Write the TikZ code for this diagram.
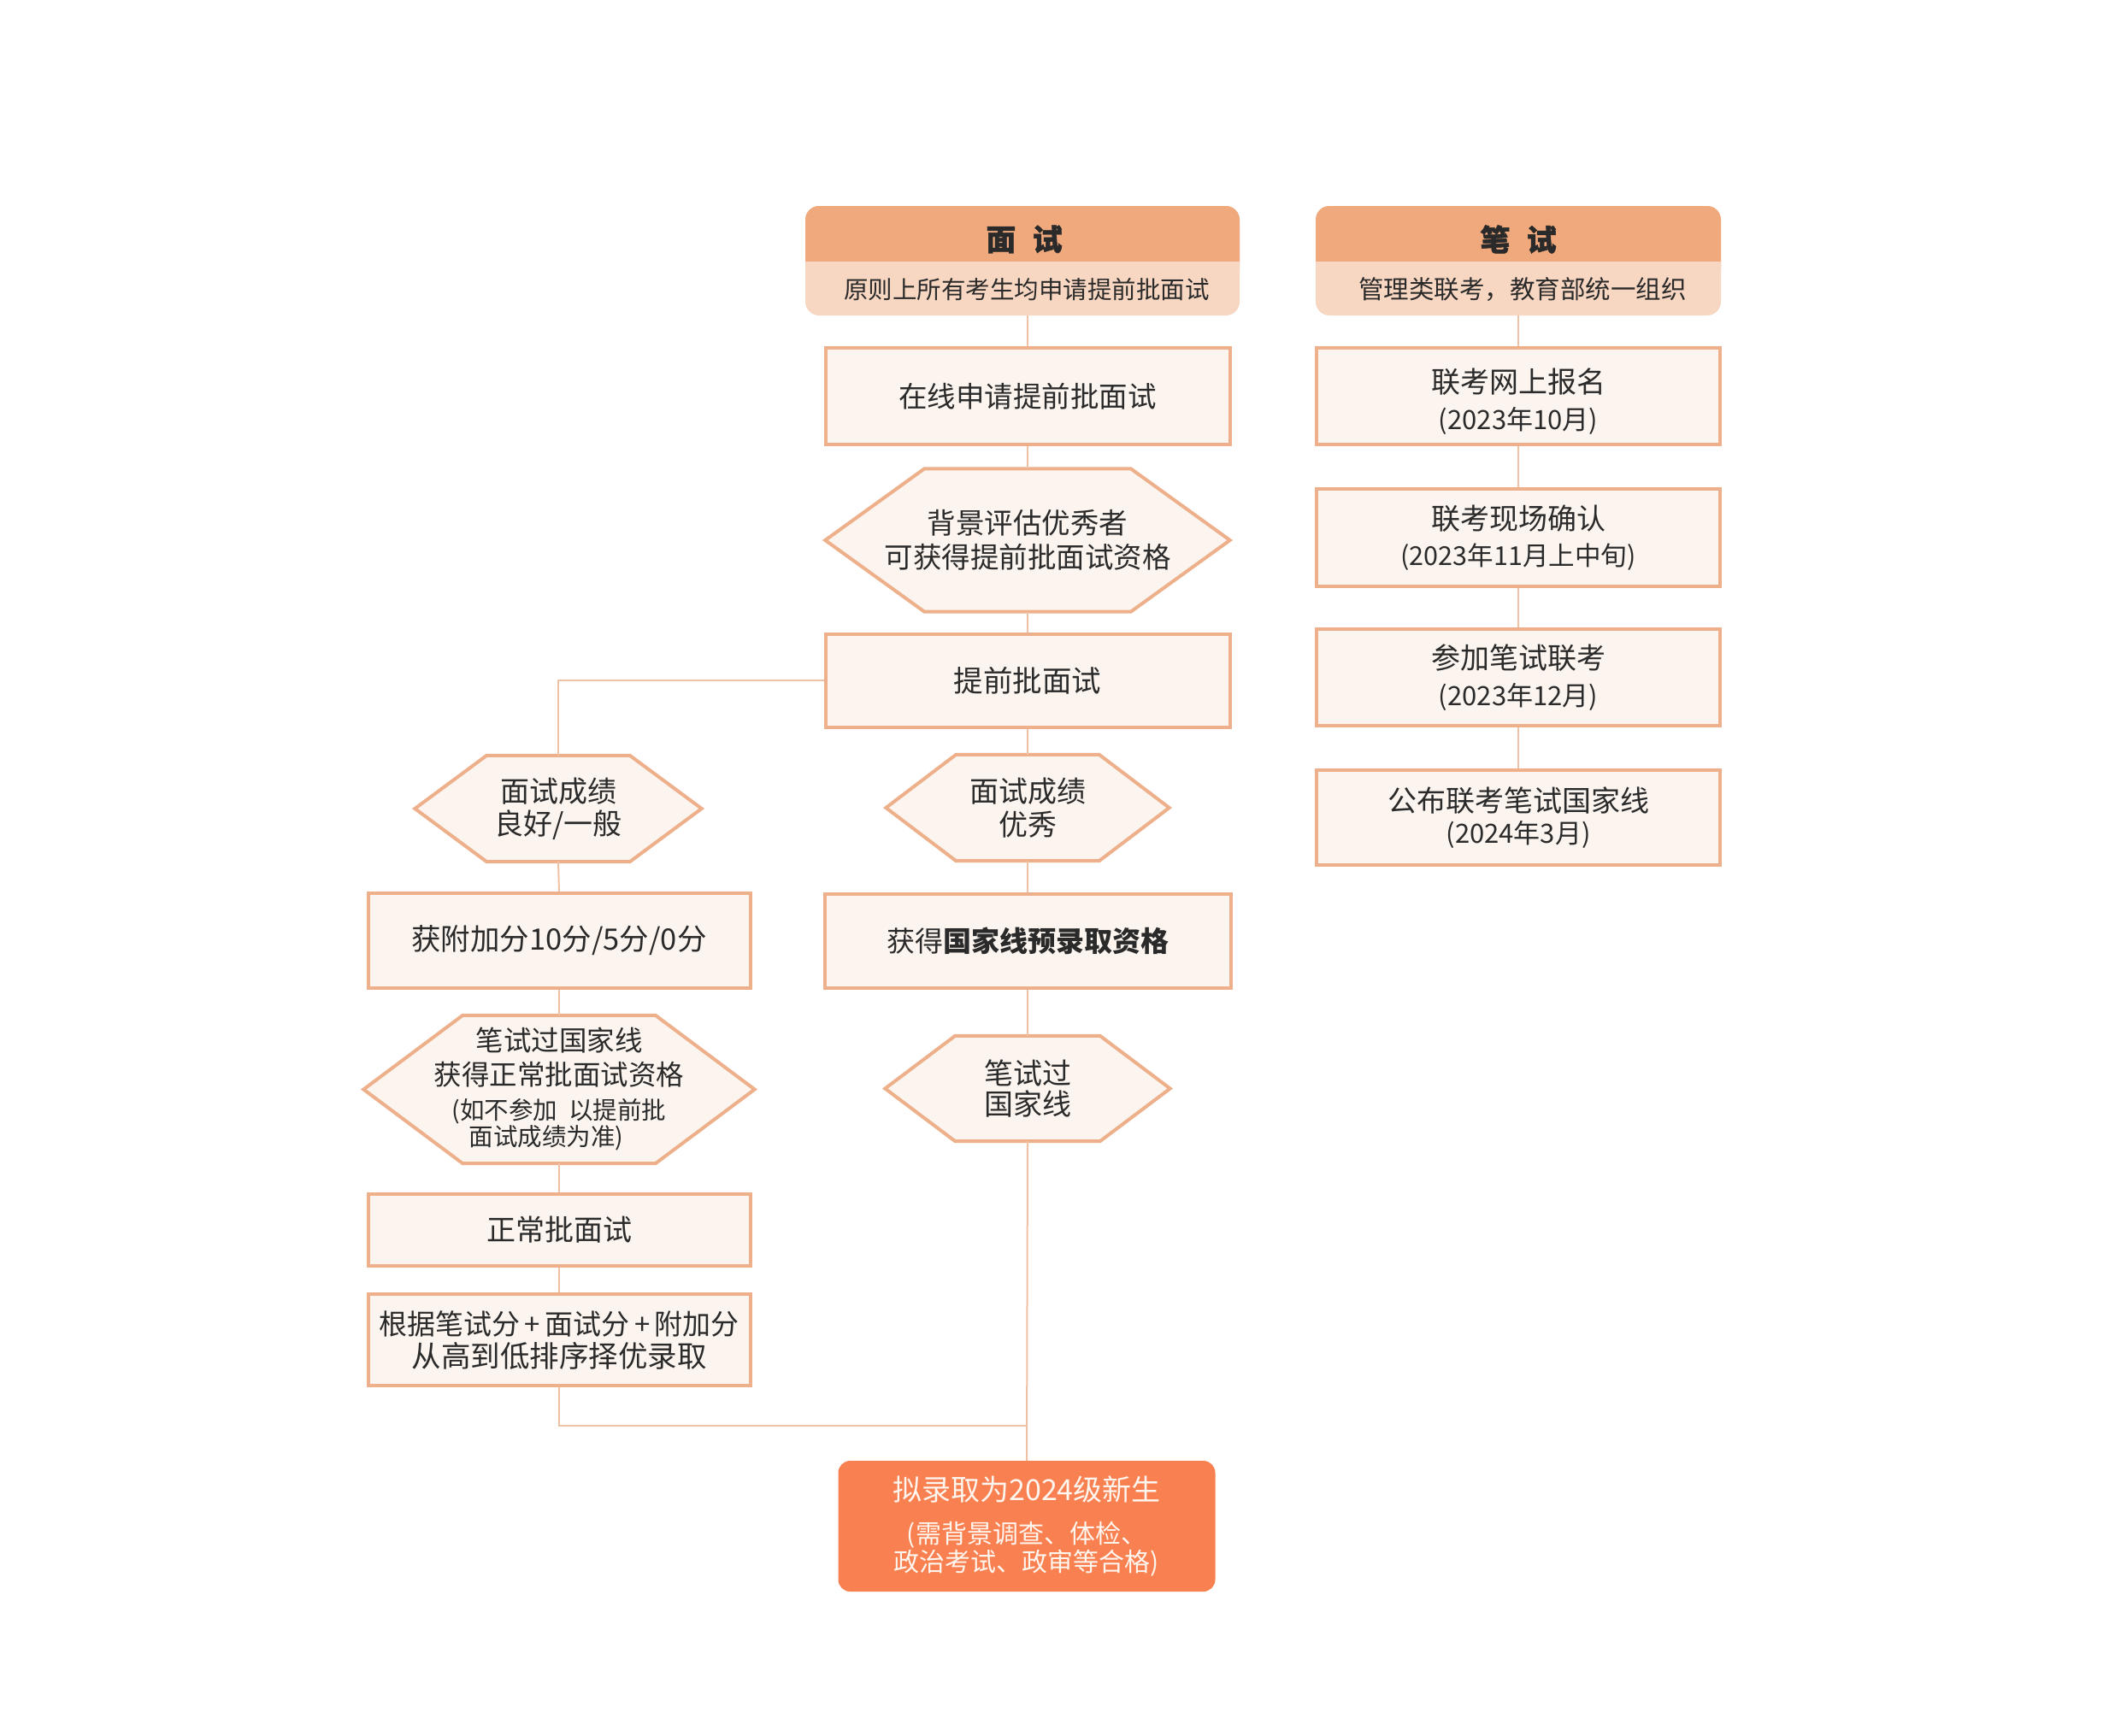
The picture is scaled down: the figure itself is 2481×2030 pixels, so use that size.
\documentclass[tikz,border=0pt]{standalone}
\usepackage{fontspec}
\setmainfont{Noto Sans CJK SC}
\usetikzlibrary{backgrounds}
\definecolor{hdDark}{HTML}{EFA97D}
\definecolor{hdLight}{HTML}{F8D7C2}
\definecolor{boxFill}{HTML}{FBF4EF}
\definecolor{boxLine}{HTML}{EDB08A}
\definecolor{connC}{HTML}{EFC2A5}
\definecolor{finalC}{HTML}{F98050}
\definecolor{txtC}{HTML}{2A2A2A}
\definecolor{finalTxt}{HTML}{FFF6EF}
\newcommand{\fs}[2]{\fontsize{#1pt}{#2pt}\selectfont}
\newcommand{\hexdraw}[2]{\path[hexline] ([xshift=#2]#1.north west) -- ([xshift=-#2]#1.north east) -- (#1.east) -- ([xshift=-#2]#1.south east) -- ([xshift=#2]#1.south west) -- (#1.west) -- cycle;}
\tikzset{
  every node/.style={text=txtC},
  box/.style={draw=boxLine, line width=4pt, fill=boxFill, inner sep=0pt, align=center},
  hexbox/.style={inner sep=0pt, align=center},
  hexline/.style={draw=boxLine, line width=4pt, fill=boxFill, line join=miter},
  conn/.style={draw=connC, line width=2pt},
  finalbox/.style={fill=finalC, rounded corners=14pt, inner sep=0pt, align=center, text=finalTxt},
  hdtitle/.style={inner sep=0pt, font=\fs{35}{40}\bfseries\addfontfeature{FakeBold=1.2}},
  hdsub/.style={inner sep=0pt, font=\fs{28.5}{32}},
  plain/.style={inner sep=0pt, align=center},
}
\begin{document}
\begin{tikzpicture}[x=1pt,y=-1pt]
\useasboundingbox (0,0) rectangle (2481,2030);
\begin{scope}[on background layer]
\fill[white] (0,0) rectangle (2481,2030);
\end{scope}

% ---------- headers ----------
\fill[hdLight, rounded corners=16pt] (942,241) rectangle (1450,369);
\fill[hdDark, rounded corners=16pt] (942,241) rectangle (1450,330);
\fill[hdLight] (942,306) rectangle (1450,340);
\node[inner sep=0pt, minimum width=508pt, minimum height=128pt] (hA) at (1196,305) {};
\node[hdtitle] (hAt) at (1198,280) {面\hspace{0.55em}试};
\node[hdsub] (hAs) at (1201,339) {原则上所有考生均申请提前批面试};

\fill[hdLight, rounded corners=16pt] (1539,241) rectangle (2013,369);
\fill[hdDark, rounded corners=16pt] (1539,241) rectangle (2013,330);
\fill[hdLight] (1539,306) rectangle (2013,340);
\node[inner sep=0pt, minimum width=474pt, minimum height=128pt] (hB) at (1776,305) {};
\node[hdtitle] (hBt) at (1776,280) {笔\hspace{0.55em}试};
\node[hdsub, font=\fs{29.5}{32}] (hBs) at (1781,339) {管理类联考，教育部统一组织};

% ---------- centre column ----------
\node[box, minimum width=473pt, minimum height=113pt, font=\fs{33.5}{40}] (A1) at (1202,463.5) {在线申请提前批面试};
\node[hexbox, minimum width=473pt, minimum height=167pt, font=\fs{33.5}{40}] (A2) at (1202,632) {背景评估优秀者\\可获得提前批面试资格};
\node[box, minimum width=473pt, minimum height=109pt, font=\fs{34.5}{40}] (A3) at (1202,796) {提前批面试};
\node[hexbox, minimum width=331pt, minimum height=124pt, font=\fs{34}{39}] (A4) at (1202,945) {面试成绩\\优秀};
\node[box, minimum width=475pt, minimum height=110pt, font=\fs{33}{40}] (A5) at (1202,1101) {获得\textbf{国家线预录取资格}};
\node[hexbox, minimum width=333pt, minimum height=123pt, font=\fs{34}{36}] (A6) at (1202,1273.5) {笔试过\\国家线};
\node[finalbox, minimum width=441pt, minimum height=153pt, font=\fs{30}{33}] (F) at (1201,1785.5) {{\fs{34}{33}拟录取为2024级新生}\\[17pt](需背景调查、体检、\\政治考试、政审等合格)};

% ---------- left column ----------
\node[hexbox, minimum width=335pt, minimum height=124pt, font=\fs{34}{38}] (L1) at (653,946) {面试成绩\\良好/一般};
\node[box, minimum width=447pt, minimum height=111pt, font=\fs{34.5}{40}] (L2) at (654,1100.5) {获附加分10分/5分/0分};
\node[hexbox, minimum width=457pt, minimum height=173pt, font=\fs{32.5}{40}] (L3) at (654,1274.5) {笔试过国家线\\获得正常批面试资格\\{\fs{28.5}{40}(如不参加\ \ 以提前批}\\[-9pt]{\fs{28.5}{40}面试成绩为准)\hspace*{30pt}}};
\node[box, minimum width=447pt, minimum height=84pt, font=\fs{34}{40}] (L4) at (654,1439) {正常批面试};
\node[box, minimum width=447pt, minimum height=107pt, font=\fs{33}{38}] (L5) at (654,1567.5) {根据笔试分\,+\,面试分\,+\,附加分\\{\fs{34.5}{38}从高到低排序择优录取}};

% ---------- right column ----------
\node[box, minimum width=472pt, minimum height=113pt] (R1) at (1776,463.5) {};
\node[plain, font=\fs{34}{43}] (R1t) at (1776,470) {联考网上报名\\{\fs{31}{43}(2023年10月)}};
\node[box, minimum width=472pt, minimum height=114pt, font=\fs{34}{42}] (R2) at (1776,629) {联考现场确认\\{\fs{30.5}{42}(2023年11月上中旬)}};
\node[box, minimum width=472pt, minimum height=113pt, font=\fs{34}{43}] (R3) at (1776,792.5) {参加笔试联考\\{\fs{31}{43}(2023年12月)}};
\node[box, minimum width=472pt, minimum height=111pt, font=\fs{34}{37}] (R4) at (1776,956.5) {公布联考笔试国家线\\{\fs{31}{37}(2024年3月)}};

% ---------- hexagon outlines ----------
\begin{scope}[on background layer]
\hexdraw{A2}{116pt}
\hexdraw{A4}{82pt}
\hexdraw{A6}{82pt}
\hexdraw{L1}{84pt}
\hexdraw{L3}{116pt}
\end{scope}

% ---------- connectors ----------
\coordinate (m) at (1202,1668);
\draw[conn] (A1.north |- hA.south) -- (A1.north);
\draw[conn] (A1.south) -- (A2.north);
\draw[conn] (A2.south) -- (A3.north);
\draw[conn] (A3.south) -- (A4.north);
\draw[conn] (A4.south) -- (A5.north);
\draw[conn] (A5.south) -- (A6.north);
\draw[conn] (A6.south) -- (F.north);
\draw[conn] (A3.west) -| (L1.north);
\draw[conn] (L1.south) -- (L2.north);
\draw[conn] (L2.south) -- (L3.north);
\draw[conn] (L3.south) -- (L4.north);
\draw[conn] (L4.south) -- (L5.north);
\draw[conn] (L5.south) |- (m);
\draw[conn] (R1.north |- hB.south) -- (R1.north);
\draw[conn] (R1.south) -- (R2.north);
\draw[conn] (R2.south) -- (R3.north);
\draw[conn] (R3.south) -- (R4.north);
\end{tikzpicture}
\end{document}
